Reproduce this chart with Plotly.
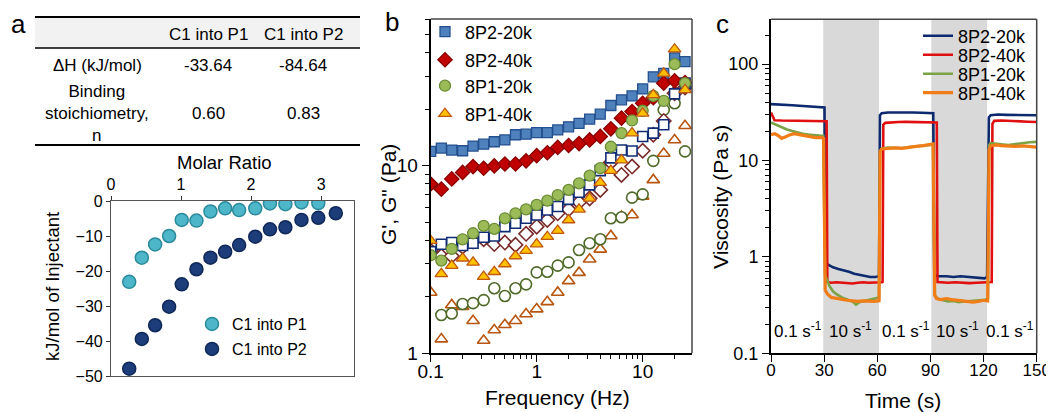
import math
import plotly.graph_objects as go

W, H = 1054, 412
OFF = 8  # the page body margin shifts the figure by 8 px
FONT = "Liberation Sans, Arial, Helvetica, sans-serif"


def px(x):
    return (x - OFF) / W


def py(y):
    return 1 - (y - OFF) / H


# ---------------- Panel a: table ----------------
table_cols = ["C1 into P1", "C1 into P2"]
table_row_labels = ["ΔH (kJ/mol)", "Binding<br>stoichiometry,<br>n"]
dH_values = ["-33.64", "-84.64"]
n_values = ["0.60", "0.83"]

# ---------------- Panel a: ITC ----------------
itc_names = ["C1 into P1", "C1 into P2"]
molar_ratio_p1 = [0.26, 0.44, 0.63, 0.83, 1.01, 1.22, 1.42, 1.63, 1.83, 2.06, 2.27, 2.49, 2.72, 2.96]
heat_p1 = [-23.1, -16.2, -12.4, -10.0, -5.4, -5.6, -3.0, -2.1, -2.6, -2.1, -0.7, -0.9, -0.4, -0.6]
molar_ratio_p2 = [0.26, 0.44, 0.63, 0.83, 1.01, 1.22, 1.42, 1.63, 1.83, 2.06, 2.27, 2.49, 2.72, 2.96, 3.21]
heat_p2 = [-47.9, -39.4, -35.5, -30.2, -23.8, -19.5, -16.2, -14.5, -12.6, -10.2, -8.1, -7.5, -5.4, -4.8, -3.5]

# ---------------- Panel b: frequency sweep ----------------
freq = [0.1, 0.126, 0.158, 0.2, 0.251, 0.316, 0.398, 0.501, 0.631, 0.794,
        1.0, 1.26, 1.58, 2.0, 2.51, 3.16, 3.98, 5.01, 6.31, 7.94,
        10.0, 12.6, 15.8, 20.0, 25.1]
samples = ["8P2-20k", "8P2-40k", "8P1-20k", "8P1-40k"]
g1_8p2_20k = [11.9, 12.4, 12.1, 12.0, 12.7, 13.0, 13.4, 13.7, 14.6, 14.7, 15.0, 15.0, 15.5,
              16.1, 16.8, 17.7, 18.8, 20.9, 22.4, 23.5, 25.6, 29.7, 31.0, 37.5, 35.8]
g2_8p2_20k = [3.48, 3.81, 3.89, 3.75, 3.86, 4.15, 4.22, 4.73, 4.93, 5.24, 5.46, 5.80, 6.05,
              6.61, 7.21, 7.89, 9.40, 11.0, 12.1, 11.96, 14.3, 14.9, 16.5, 24.1, 27.5]
g1_8p2_40k = [7.98, 7.49, 8.49, 9.2, 9.88, 9.68, 9.96, 10.2, 10.2, 10.6, 11.3, 11.7, 12.5,
              12.8, 13.1, 13.7, 14.3, 15.7, 17.9, 19.4, 21.5, 23.0, 27.5, 28.3, 27.7]
g2_8p2_40k = [3.52, 3.30, 3.30, 3.70, 3.94, 4.05, 3.82, 3.89, 3.78, 4.33, 4.73, 5.13, 5.57,
              5.85, 6.38, 6.69, 7.42, 10.4, 8.92, 9.88, 12.0, 14.6, 17.3, 24.3, 26.1]
g1_8p1_20k = [3.33, 3.12, 3.60, 4.05, 4.36, 4.77, 4.60, 5.24, 5.57, 5.85, 6.17, 6.5, 6.97,
              7.42, 8.05, 8.85, 9.69, 12.6, 14.9, 17.4, 19.6, 23.5, 22.1, 34.7, 27.5]
g2_8p1_20k = [None, 1.60, 1.63, 1.83, 1.85, 1.92, 2.22, 2.02, 2.22, 2.33, 2.70, 2.72, 2.93,
              3.05, 3.55, 3.86, 4.05, 5.24, 5.31, 6.75, 7.03, 10.6, 19.8, 21.5, 11.9]
g1_8p1_40k = [3.98, 2.65, 2.93, 3.21, 3.05, 2.56, 2.72, 2.99, 3.30, 3.52, 3.82, 4.18, 4.50,
              5.13, 5.85, 6.69, 8.11, 9.40, 10.7, 14.9, 19.0, 23.8, 31.0, 41.7, 25.3]
g2_8p1_40k = [2.11, 1.19, 1.81, 1.77, 1.49, 1.17, 1.33, 1.42, 1.49, 1.62, 1.72, 1.88, 2.11,
              2.43, 2.69, 3.17, 3.58, 4.22, 5.35, 5.46, 6.84, 8.39, 11.6, 13.7, 16.3]

# ---------------- Panel c: step shear ----------------
t_8p2_20k = [0, 4, 8, 12, 16, 20, 24, 28, 30.2, 30.7, 32, 35, 38, 41, 44, 47, 50, 53, 56, 59, 61,
             61.5, 62.5, 66, 70, 75, 80, 85, 89, 91.6, 92.2, 95, 99, 103, 107, 111, 115, 118, 120.5,
             122, 123, 124, 128, 133, 138, 143, 147, 150]
v_8p2_20k = [38.5, 38.3, 37.8, 37.5, 37.0, 36.5, 36.2, 35.7, 35.5, 0.86, 0.83, 0.78, 0.75, 0.73,
             0.70, 0.67, 0.65, 0.63, 0.62, 0.62, 0.63, 29.5, 31.0, 31.5, 31.6, 31.4, 31.5, 31.3,
             31.2, 31.0, 0.64, 0.63, 0.63, 0.62, 0.63, 0.62, 0.61, 0.60, 0.60, 0.62, 28.0, 29.5,
             30.0, 29.8, 29.6, 29.5, 29.4, 29.5]
t_8p2_40k = [0, 1, 2, 6, 10, 15, 20, 25, 30, 31.4, 31.8, 34, 37, 40, 43, 46, 49, 52, 55, 58, 62.6,
             63.0, 63.4, 64.5, 68, 72, 76, 80, 84, 88, 93.6, 94.0, 96, 100, 104, 108, 112, 116,
             120, 124.6, 125.0, 126, 130, 135, 140, 145, 150]
v_8p2_40k = [31.5, 29.0, 26.2, 26.0, 25.9, 25.8, 25.8, 25.7, 25.7, 25.6, 0.55, 0.54, 0.545, 0.54,
             0.535, 0.53, 0.54, 0.545, 0.54, 0.54, 0.545, 0.55, 23.5, 24.6, 25.0, 25.1, 25.2,
             25.1, 25.0, 25.0, 24.8, 0.55, 0.545, 0.54, 0.545, 0.54, 0.535, 0.54, 0.545, 0.55,
             24.0, 25.8, 26.0, 25.9, 25.6, 25.3, 25.1]
t_8p1_20k = [0, 3, 6, 9, 12, 15, 18, 21, 24, 27, 29.5, 30.5, 31.5, 33, 35, 37, 40, 43, 46, 48,
             50, 53, 56, 59, 61, 61.5, 62.5, 66, 70, 74, 78, 82, 86, 90, 91.5, 92.5, 94, 97, 100,
             103, 106, 109, 112, 115, 118, 121, 122.5, 123.2, 124, 127, 130, 134, 138, 142, 146, 150]
v_8p1_20k = [24.8, 23.5, 22.0, 21.0, 20.2, 19.5, 19.0, 18.6, 18.3, 18.1, 18.0, 0.65, 0.58, 0.50,
             0.44, 0.41, 0.38, 0.36, 0.345, 0.32, 0.34, 0.35, 0.36, 0.37, 0.38, 12.5, 13.3, 13.6,
             13.6, 13.5, 13.8, 14.0, 14.2, 14.5, 14.6, 0.40, 0.37, 0.355, 0.345, 0.35, 0.34, 0.345,
             0.35, 0.355, 0.36, 0.36, 0.37, 14.5, 15.2, 15.0, 14.7, 14.5, 14.8, 15.2, 15.5, 15.6]
t_8p1_40k = [0, 2, 4, 6, 8, 10, 13, 16, 19, 22, 25, 29, 29.7, 30.6, 32, 34, 37, 40, 43, 46, 49,
             52, 55, 58, 61, 61.6, 62.5, 66, 70, 74, 78, 82, 86, 90, 91.5, 92.4, 93.5, 96, 99, 102,
             105, 108, 111, 114, 117, 120, 122.3, 123.1, 124, 127, 130, 134, 138, 142, 146, 150]
v_8p1_40k = [18.5, 19.0, 18.2, 17.0, 17.5, 18.3, 19.0, 18.5, 18.0, 17.6, 17.3, 17.3, 17.0, 0.45,
             0.41, 0.38, 0.37, 0.36, 0.355, 0.35, 0.345, 0.35, 0.345, 0.345, 0.35, 12.5, 13.2,
             13.4, 13.5, 13.4, 13.6, 14.0, 14.3, 14.7, 14.9, 0.40, 0.37, 0.36, 0.37, 0.36, 0.355,
             0.35, 0.345, 0.34, 0.345, 0.355, 0.35, 13.0, 14.2, 14.5, 14.3, 14.2, 14.0, 14.2, 14.0, 13.8]
high_shear_windows = [(29.5, 61.0), (90.5, 122.0)]
shear_labels = ["0.1 s<sup>-1</sup>", "10 s<sup>-1</sup>", "0.1 s<sup>-1</sup>",
                "10 s<sup>-1</sup>", "0.1 s<sup>-1</sup>"]
shear_label_times = [15.1, 44.6, 76.1, 105.4, 135.2]
shear_label_value = 0.174

fig = go.Figure()

# ---- ITC traces ----
fig.add_trace(go.Scatter(
    x=molar_ratio_p1, y=heat_p1, mode="markers", name=itc_names[0],
    marker=dict(size=13, color="#4DB6C9", line=dict(color="#2A8A9C", width=1.5)),
    xaxis="x", yaxis="y", legend="legend"))
fig.add_trace(go.Scatter(
    x=molar_ratio_p2, y=heat_p2, mode="markers", name=itc_names[1],
    marker=dict(size=13, color="#1C3D7A", line=dict(color="#102858", width=1.5)),
    xaxis="x", yaxis="y", legend="legend2"))

# ---- Panel b traces ----
b_styles = [
    dict(sym="square", size=10, fill="#4F81BD", edge="#24508F", oedge="#0F2C75"),
    dict(sym="diamond", size=11, fill="#C00000", edge="#8A0000", oedge="#7A2A2A"),
    dict(sym="circle", size=11, fill="#9BBB59", edge="#6A8C33", oedge="#4F6A28"),
    dict(sym="triangle-up", size=11, fill="#FFC000", edge="#C0580F", oedge="#B8550F"),
]
g1_all = [g1_8p2_20k, g1_8p2_40k, g1_8p1_20k, g1_8p1_40k]
g2_all = [g2_8p2_20k, g2_8p2_40k, g2_8p1_20k, g2_8p1_40k]
for i in [3, 2, 1, 0]:
    s = b_styles[i]
    fig.add_trace(go.Scatter(
        x=freq, y=g2_all[i], mode="markers", showlegend=False, name=samples[i] + ' G"',
        marker=dict(symbol=s["sym"], size=s["size"], color="white",
                    line=dict(color=s["oedge"], width=1.6)),
        xaxis="x2", yaxis="y2"))
for i in [0, 1, 2, 3]:
    s = b_styles[i]
    fig.add_trace(go.Scatter(
        x=freq, y=g1_all[i], mode="markers", name=samples[i],
        marker=dict(symbol=s["sym"], size=s["size"], color=s["fill"],
                    line=dict(color=s["edge"], width=1.3)),
        xaxis="x2", yaxis="y2", legend="legend%d" % (3 + i)))

# ---- Panel c traces ----
c_colors = ["#0D2A6E", "#E01010", "#7BA346", "#F07D17"]
c_widths = [2.6, 2.6, 2.6, 3.2]
c_t = [t_8p2_20k, t_8p2_40k, t_8p1_20k, t_8p1_40k]
c_v = [v_8p2_20k, v_8p2_40k, v_8p1_20k, v_8p1_40k]
for i in range(4):
    fig.add_trace(go.Scatter(
        x=c_t[i], y=c_v[i], mode="lines", name=samples[i],
        line=dict(color=c_colors[i], width=c_widths[i]),
        xaxis="x3", yaxis="y3", legend="legend%d" % (7 + i)))

tickfont_a = dict(family=FONT, size=16, color="black")
tickfont_b = dict(family=FONT, size=19, color="black")
tickfont_c = dict(family=FONT, size=18, color="black")
tickfont_cx = dict(family=FONT, size=17, color="black")

# ---- Axes ----
layout_axes = dict(
    xaxis=dict(domain=[px(111), px(354)], range=[0, 3.47], side="top", anchor="y",
               tickvals=[0, 1, 2, 3], ticks="outside", ticklen=4, tickcolor="#333",
               showline=True, linecolor="#555", linewidth=1.2, mirror=True,
               showgrid=False, zeroline=False, tickfont=tickfont_a),
    yaxis=dict(domain=[py(376), py(201)], range=[-50, 0], anchor="x",
               tickvals=[0, -10, -20, -30, -40, -50], ticks="outside", ticklen=4, tickcolor="#333",
               showline=True, linecolor="#555", linewidth=1.2, mirror=True,
               showgrid=False, zeroline=False, tickfont=tickfont_a),
    xaxis2=dict(domain=[px(430.7), px(692)], type="log", range=[-1, math.log10(29.2)], anchor="y2",
                tickvals=[0.1, 1, 10], ticktext=["0.1", "1", "10"], ticks="outside", ticklen=7,
                tickwidth=1.3, tickcolor="black", ticklabelstandoff=-7,
                minor=dict(tickmode="array", ticks="outside", ticklen=4, tickcolor="black",
                           tickvals=[0.2, 0.3, 0.4, 0.5, 0.6, 0.7, 0.8, 0.9,
                                     2, 3, 4, 5, 6, 7, 8, 9, 20]),
                showline=True, linecolor="black", linewidth=2, mirror=False,
                showgrid=False, zeroline=False, tickfont=tickfont_b),
    yaxis2=dict(domain=[py(353.3), py(19)], type="log", range=[0, math.log10(60.4)], anchor="x2",
                tickvals=[1, 10], ticktext=["1", "10"], ticks="outside", ticklen=7,
                tickwidth=1.3, tickcolor="black",
                minor=dict(tickmode="array", ticks="outside", ticklen=4, tickcolor="black",
                           tickvals=[2, 3, 4, 5, 6, 7, 8, 9, 20, 30, 40, 50, 60]),
                showline=True, linecolor="black", linewidth=2, mirror=False,
                showgrid=False, zeroline=False, tickfont=tickfont_b),
    xaxis3=dict(domain=[px(771), px(1036.7)], range=[0, 150], anchor="y3",
                tickvals=[0, 30, 60, 90, 120, 150], ticks="outside", ticklen=7,
                tickwidth=1.3, tickcolor="black", ticklabelstandoff=-7,
                showline=True, linecolor="black", linewidth=2, mirror=False,
                showgrid=False, zeroline=False, tickfont=tickfont_cx),
    yaxis3=dict(domain=[py(353.3), py(19.3)], type="log", range=[-1, math.log10(292)], anchor="x3",
                tickvals=[0.1, 1, 10, 100], ticktext=["0.1", "1", "10", "100"], ticks="outside",
                ticklen=7, tickwidth=1.3, tickcolor="black",
                minor=dict(tickmode="array", ticks="outside", ticklen=4, tickcolor="black",
                           tickvals=[0.2, 0.3, 0.4, 0.5, 0.6, 0.7, 0.8, 0.9, 2, 3, 4, 5, 6, 7, 8, 9,
                                     20, 30, 40, 50, 60, 70, 80, 90, 200]),
                showline=True, linecolor="black", linewidth=2, mirror=False,
                showgrid=False, zeroline=False, tickfont=tickfont_c),
)


def legend_at(text_x, center_y, size):
    return dict(x=px(text_x - 42), y=py(center_y), xanchor="left", yanchor="middle",
                font=dict(family=FONT, size=size, color="black"), bgcolor="rgba(0,0,0,0)",
                borderwidth=0, itemclick=False, itemdoubleclick=False)


legends = {
    "legend": legend_at(234, 324, 16),
    "legend2": legend_at(234, 349, 16),
    "legend3": legend_at(467, 32, 18),
    "legend4": legend_at(467, 60, 18),
    "legend5": legend_at(467, 86, 18),
    "legend6": legend_at(467, 114, 18),
    "legend7": legend_at(960, 36, 18),
    "legend8": legend_at(960, 55, 18),
    "legend9": legend_at(960, 74, 18),
    "legend10": legend_at(960, 93, 18),
}

shapes = []
# table lines and header background
shapes.append(dict(type="rect", xref="paper", yref="paper", x0=px(35), x1=px(360),
                   y0=py(48), y1=py(17), fillcolor="#F2F2F2", line=dict(width=0), layer="below"))
for yy, lw in [(17, 2), (48, 1.5), (145, 2)]:
    shapes.append(dict(type="line", xref="paper", yref="paper", x0=px(35), x1=px(360),
                       y0=py(yy), y1=py(yy), line=dict(color="black", width=lw)))
# shading in panel c
for (t0, t1) in high_shear_windows:
    shapes.append(dict(type="rect", xref="x3", yref="y3 domain", x0=t0, x1=t1, y0=0, y1=1,
                       fillcolor="#D9D9D9", line=dict(width=0), layer="below"))
# top/right frame lines for b and c
for ax in ["2", "3"]:
    shapes.append(dict(type="line", xref="x%s domain" % ax, yref="y%s domain" % ax,
                       x0=0, x1=1, y0=1, y1=1, line=dict(color="#444", width=1.5)))
    shapes.append(dict(type="line", xref="x%s domain" % ax, yref="y%s domain" % ax,
                       x0=1, x1=1, y0=0, y1=1, line=dict(color="#444", width=1.5)))

ann = []


def label(x, y, text, size, angle=0, xanchor="center"):
    ann.append(dict(x=px(x), y=py(y), xref="paper", yref="paper", text=text, showarrow=False,
                    font=dict(family=FONT, size=size, color="black"), textangle=angle,
                    xanchor=xanchor, yanchor="middle"))


# panel letters
label(18, 24, "a", 26)
label(392, 22, "b", 26)
label(722, 24, "c", 26)
# table
col_x = [208, 303]
for j in range(2):
    label(col_x[j], 35, table_cols[j], 17)
    label(col_x[j], 65, dH_values[j], 17)
    label(col_x[j], 113, n_values[j], 17)
label(97, 65, table_row_labels[0], 17)
ann.append(dict(x=px(97), y=py(113), xref="paper", yref="paper", text=table_row_labels[1],
                showarrow=False, font=dict(family=FONT, size=17, color="black"),
                xanchor="center", yanchor="middle", align="center"))
# axis titles
label(224, 162, "Molar Ratio", 18.5)
label(52, 287, "kJ/mol of Injectant", 18.5, angle=-90)
label(557, 397, "Frequency (Hz)", 21)
label(388, 195, "G', G\" (Pa)", 21, angle=-90)
label(903, 400, "Time (s)", 21)
label(720, 197, "Viscosity (Pa s)", 21, angle=-90)
# shear-rate labels
for tx, txt in zip(shear_label_times, shear_labels):
    ann.append(dict(x=tx, y=math.log10(shear_label_value), xref="x3", yref="y3", text=txt,
                    showarrow=False, font=dict(family=FONT, size=17, color="black"),
                    xanchor="center", yanchor="middle"))

fig.update_layout(
    width=W, height=H, autosize=False,
    margin=dict(l=0, r=0, t=0, b=0, pad=0, autoexpand=False),
    paper_bgcolor="white", plot_bgcolor="white",
    font=dict(family=FONT, color="black"),
    shapes=shapes, annotations=ann,
    **layout_axes, **legends,
)

fig.write_html("out.html")
